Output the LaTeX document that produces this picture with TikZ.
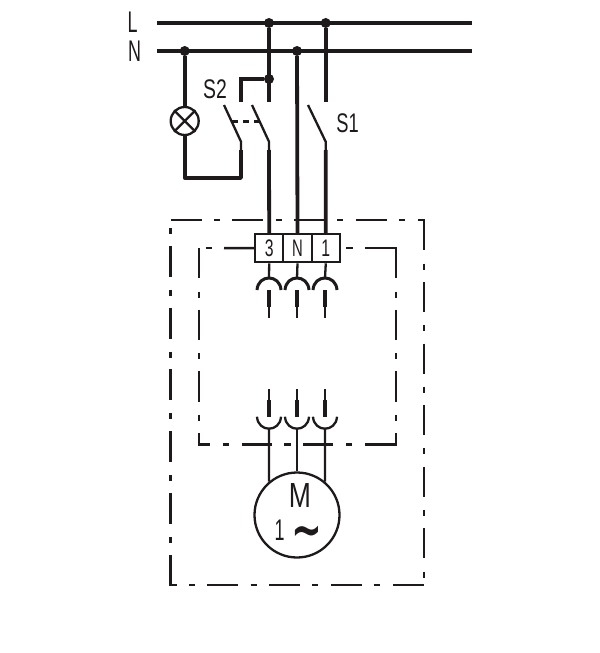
\documentclass[tikz,border=0pt]{standalone}
\usepackage{graphicx}
\usepackage{fontspec}
\setmainfont{Liberation Sans}
\newfontfamily\tildefont{DejaVu Sans}
\usetikzlibrary{calc}
\definecolor{ink}{HTML}{1E1A1B}
\newcommand{\cond}[2]{\scalebox{#1}[1]{#2}}
\tikzset{
  bus/.style={line width=4bp,draw=ink},
  wire/.style={line width=3.8bp,draw=ink},
  thin wire/.style={line width=2.3bp,draw=ink},
  frame/.style={line width=2.5bp,draw=ink},
  cup/.style={line width=3bp,draw=ink},
  pin/.style={line width=4.6bp,draw=ink},
  dot/.style={circle,fill=ink,inner sep=0pt,minimum size=10bp},
  lbl/.style={inner sep=0pt,text=ink,anchor=base},
  term/.style={draw=ink,line width=2.2bp,minimum height=28bp,inner sep=0pt,text=ink,font=\fontsize{24}{24}\selectfont},
}
\newcommand{\vseg}[3]{\draw[frame] (#1,#2) -- (#1,#3);}
\newcommand{\hseg}[3]{\draw[frame] (#2,#1) -- (#3,#1);}
\begin{document}
\begin{tikzpicture}[x=1bp,y=-1bp]
\useasboundingbox (0,0) rectangle (600,653);
% labels
\node[lbl] (lL) at (132.5,33) {\fontsize{30}{30}\selectfont\cond{.6}{L}};
\node[lbl] (lN) at (134.5,62) {\fontsize{30}{30}\selectfont\cond{.6}{N}};
\node[lbl] (lS2) at (215,99) {\fontsize{27}{27}\selectfont\cond{.72}{S2}};
\node[lbl] (lS1) at (347.5,132) {\fontsize{27}{27}\selectfont\cond{.68}{S1}};
% buses
\coordinate (Lw) at (157,23); \coordinate (Le) at (472,23);
\coordinate (Nw) at (157,51); \coordinate (Ne) at (472,51);
\draw[bus] (Lw) -- (Le);
\draw[bus] (Nw) -- (Ne);
% junctions
\node[dot] (jL3) at (269,23) {};
\node[dot] (jL1) at (325.7,23) {};
\node[dot] (jNl) at (184.7,51) {};
\node[dot] (jNN) at (297,51) {};
\node[dot] (jS2) at (269,79) {};
% terminal block
\node[term,minimum width=28.3bp] (t3) at (269.2,248.2) {\cond{.66}{3}};
\node[term,minimum width=28.3bp] (tN) at (297.5,248.2) {\cond{.62}{N}};
\node[term,minimum width=28.3bp] (t1) at (325.8,248.2) {\cond{.66}{1}};
% lamp
\node[draw=ink,line width=2.3bp,circle,minimum size=28bp,inner sep=0pt] (lamp) at (184.7,121) {};
\draw[thin wire] (lamp.45) -- (lamp.225) (lamp.135) -- (lamp.315);
% fixed contacts
\coordinate (c2a) at (240.7,102); \coordinate (c2b) at (269,102); \coordinate (c1) at (325.7,102);
\draw[wire] (jL3) -- (c2b);
\draw[wire] (jL1) -- (c1);
\draw[wire] (jS2) -| (c2a);
% switches
\coordinate (a1) at (224,105); \coordinate (a2) at (241,141.7); \coordinate (a3) at (241,150);
\coordinate (b1) at (252,105); \coordinate (b2) at (269,141.7); \coordinate (b3) at (269,150);
\coordinate (d1) at (308,105); \coordinate (d2) at (325.7,141.7); \coordinate (d3) at (325.7,150);
\draw[thin wire] (a1) -- (a2) -- (a3);
\draw[thin wire] (b1) -- (b2) -- (b3);
\draw[thin wire] (d1) -- (d2) -- (d3);
\coordinate (m1) at (232,121.5); \coordinate (m2) at (261,121.5);
\draw[line width=2.8bp,draw=ink,dash pattern=on 6bp off 5bp] (m1) -- (m2);
% lamp circuit
\coordinate (lc) at (184.7,178);
\draw[wire] (jNl) -- (lamp.north);
\draw[wire,line join=round] (lamp.south) -- (lc) -| (a3);
% feeds
\draw[wire] (b3) -- (t3.north);
\draw[wire] (jNN) -- (tN.north);
\draw[wire] (d3) -- (t1.north);
% outer frame
\foreach \k in {0,...,3} {\hseg{220}{170.7+61.7*\k}{201.7+61.7*\k}}
\foreach \k in {0,...,3} {\hseg{220}{214+61.7*\k}{220+61.7*\k}}
\draw[frame] (418,220) -- (424,220) -- (424,250);
\foreach \k in {0,...,4} {\vseg{424}{282+61.6*\k}{312+61.6*\k}}
\foreach \k in {0,...,5} {\vseg{424}{263.5+61.6*\k}{269.5+61.6*\k}}
\foreach \k in {0,...,3} {\hseg{585}{207.3+61.9*\k}{238.3+61.9*\k}}
\foreach \k in {0,...,3} {\hseg{585}{189+61.5*\k}{195+61.5*\k}}
\draw[frame] (170.7,555) -- (170.7,585) -- (176.7,585);
\foreach \k in {0,...,4} {\vseg{170.7}{246+61.7*\k}{277+61.7*\k}}
\foreach \k in {0,...,5} {\vseg{170.7}{228+61.8*\k}{234+61.8*\k}}
% inner frame
\hseg{248}{205.7}{211.7}
\draw[frame] (224,248) -- (t3.west);
\draw[frame] (346,248) -- (352.5,248);
\draw[frame] (365,248) -- (396,248) -- (396,278.3);
\foreach \x in {199,396} {
  \foreach \k in {0,1,2} {\vseg{\x}{291.5+61.6*\k}{297.5+61.6*\k}}
  \foreach \k in {0,1} {\vseg{\x}{309.6+61.6*\k}{340.4+61.6*\k}}
}
\vseg{199}{248}{278.3}
\draw[frame] (199,433) -- (199,444.3) -- (210,444.3);
\draw[frame] (396,433) -- (396,444.3) -- (365,444.3);
\hseg{444.3}{222.7}{229}
\hseg{444.3}{241.7}{271.7}
\hseg{444.3}{284}{290.5}
\hseg{444.3}{303.3}{333.3}
\hseg{444.3}{346}{352.3}
% motor
\node[draw=ink,line width=2.3bp,circle,minimum size=85bp,inner sep=0pt] (motor) at (297,515) {};
\node[lbl] (mM) at (300,507) {\fontsize{35}{35}\selectfont\cond{.76}{M}};
\node[lbl] (m1t) at (279.5,540) {\fontsize{30}{30}\selectfont\cond{.6}{1}};
\node[lbl] (mT) at (306.5,547) {\scalebox{1}[1.4]{\fontsize{37}{37}\selectfont\tildefont\bfseries\char`\~}};
% plug-in connectors
\foreach \n/\x/\ang in {3/269/130,N/297/90,1/325/50} {
  \coordinate (top\n) at (\x,278);
  \coordinate (pinA\n) at (\x,290);
  \coordinate (pinB\n) at (\x,306.7);
  \coordinate (pinC\n) at (\x,318);
  \coordinate (pinD\n) at (\x,389);
  \coordinate (pinE\n) at (\x,400);
  \coordinate (pinF\n) at (\x,416.7);
  \coordinate (bot\n) at (\x,428.5);
  \draw[thin wire] (t\n.south) -- (top\n);
  \draw[cup] ($(pinA\n)+(-12,0)$) .. controls ($(pinA\n)+(-11,-16)$) and ($(pinA\n)+(11,-16)$) .. ($(pinA\n)+(12,0)$);
  \draw[pin] (pinA\n) -- (pinB\n);
  \draw[thin wire] (pinB\n) -- (pinC\n);
  \draw[thin wire] (pinD\n) -- (pinE\n);
  \draw[pin] (pinE\n) -- (pinF\n);
  \draw[thin wire] ($(pinF\n)+(-12,0)$) .. controls ($(pinF\n)+(-11,16)$) and ($(pinF\n)+(11,16)$) .. ($(pinF\n)+(12,0)$);
  \draw[thin wire] (bot\n) -- (motor.\ang);
}
\end{tikzpicture}
\end{document}
